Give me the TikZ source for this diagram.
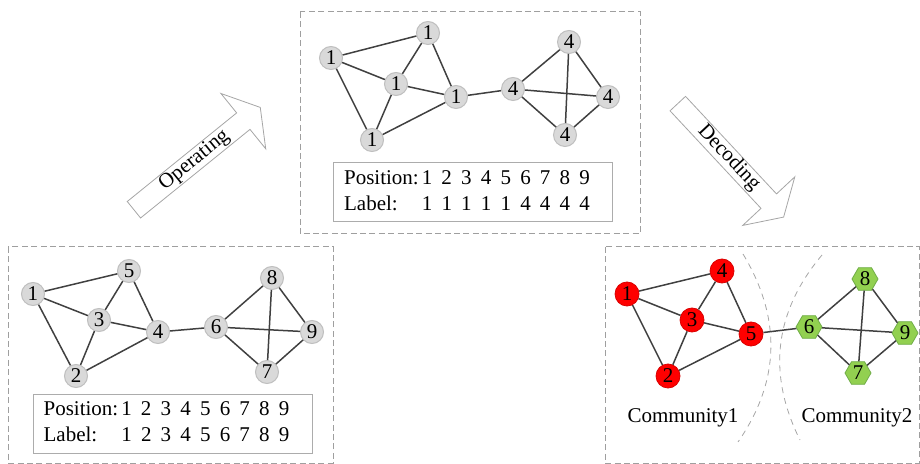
\documentclass[tikz,border=0pt]{standalone}
\usepackage{fontspec}
\setmainfont{Liberation Serif}
\usepackage{xcolor}
\usetikzlibrary{shapes.geometric,shapes.arrows}
\definecolor{leafgreen}{RGB}{146,208,80}
\definecolor{leafedge}{RGB}{112,173,71}

\begin{document}
\begin{tikzpicture}[
  x=0.5pt, y=-0.5pt,
  font=\fontsize{10.5}{12.6}\selectfont,
  vertex/.style={circle, draw=gray!50, fill=gray!30, line width=0.5pt, minimum size=11.5pt, inner sep=0pt, font=\fontsize{10.5}{11}\selectfont},
  redv/.style={circle, draw=red!85!black, fill=red, line width=0.4pt, minimum size=12pt, inner sep=0pt, font=\fontsize{10.5}{11}\selectfont},
  greenv/.style={regular polygon, regular polygon sides=6, draw=leafedge, fill=leafgreen, line width=0.4pt, minimum size=13pt, inner sep=0pt, font=\fontsize{10.5}{11}\selectfont},
  edge/.style={draw=black!75, line width=0.75pt},
  panel/.style={draw=gray!75, line width=0.5pt, dash pattern=on 3pt off 1.7pt},
  split/.style={draw=gray!70, line width=0.4pt, dash pattern=on 3pt off 2.5pt},
  tabbox/.style={draw=gray!65, line width=0.5pt, minimum width=139.5pt, minimum height=29.5pt, inner sep=0pt},
  flow/.style={single arrow, draw=gray!70, fill=white, line width=0.4pt, anchor=tail,
    single arrow head extend=12.5pt, single arrow tip angle=117,
    text height=7pt, text depth=2.4pt, inner ysep=0.4pt, inner xsep=2pt}
]
  \useasboundingbox (0,0) rectangle (920,464);
  \setlength{\tabcolsep}{2.3pt}

  % Panels
  \draw[panel] (8,247) rectangle (333,463);
  \draw[panel] (300,12) rectangle (640,234);
  \draw[panel] (605,247) rectangle (919,463);

  % Input network
  \node[vertex] (l1) at (33,294) {1};
  \node[vertex] (l2) at (76,376) {2};
  \node[vertex] (l3) at (99,320) {3};
  \node[vertex] (l4) at (158,332) {4};
  \node[vertex] (l5) at (129,271) {5};
  \node[vertex] (l6) at (216,327) {6};
  \node[vertex] (l7) at (267,372) {7};
  \node[vertex] (l8) at (272,278) {8};
  \node[vertex] (l9) at (312,332) {9};

  \node[tabbox] (ltab) at (172.5,423.5) {\begin{tabular}{@{}l@{\hspace{1.5pt}}*{9}{c}@{\hspace{6pt}}}
    Position: & 1 & 2 & 3 & 4 & 5 & 6 & 7 & 8 & 9\\
    Label: & 1 & 2 & 3 & 4 & 5 & 6 & 7 & 8 & 9
  \end{tabular}};

  % Label propagation result
  \node[vertex] (t1) at (331,58) {1};
  \node[vertex] (t2) at (372,140) {1};
  \node[vertex] (t3) at (396,84) {1};
  \node[vertex] (t4) at (456,97) {1};
  \node[vertex] (t5) at (428,33) {1};
  \node[vertex] (t6) at (513,89) {4};
  \node[vertex] (t7) at (565,135) {4};
  \node[vertex] (t8) at (569,42) {4};
  \node[vertex] (t9) at (608,97) {4};

  \node[tabbox] (ttab) at (473,192.5) {\begin{tabular}{@{}l@{\hspace{1.5pt}}*{9}{c}@{\hspace{6pt}}}
    Position: & 1 & 2 & 3 & 4 & 5 & 6 & 7 & 8 & 9\\
    Label: & 1 & 1 & 1 & 1 & 1 & 4 & 4 & 4 & 4
  \end{tabular}};

  % Communities
  \node[redv] (r1) at (627,294) {1};
  \node[redv] (r2) at (668,376) {2};
  \node[redv] (r3) at (692,320) {3};
  \node[redv] (r4) at (722,271) {4};
  \node[redv] (r5) at (751,334) {5};
  \node[greenv] (r6) at (809,327) {6};
  \node[greenv] (r7) at (858,373) {7};
  \node[greenv] (r8) at (865,279) {8};
  \node[greenv] (r9) at (905,333) {9};

  \node (c1) at (683,418) {Community1};
  \node (c2) at (857,418) {Community2};

  \draw[split] (743,254) .. controls (781,317) and (781,380) .. (738,442);
  \draw[split] (822,255) .. controls (770,317) and (770,380) .. (800,440);

  % Steps
  \node[flow, rotate=39, minimum height=81.3pt] (op) at (133.6,210) {Operating};
  \node[flow, rotate=-47, minimum height=77.6pt] (dec) at (677.5,103.3) {Decoding};

  % Edges
  \draw[edge] (l1) -- (l5);
  \draw[edge] (l1) -- (l3);
  \draw[edge] (l1) -- (l2);
  \draw[edge] (l3) -- (l5);
  \draw[edge] (l3) -- (l4);
  \draw[edge] (l3) -- (l2);
  \draw[edge] (l5) -- (l4);
  \draw[edge] (l2) -- (l4);
  \draw[edge] (l4) -- (l6);
  \draw[edge] (l6) -- (l8);
  \draw[edge] (l6) -- (l9);
  \draw[edge] (l6) -- (l7);
  \draw[edge] (l8) -- (l7);
  \draw[edge] (l8) -- (l9);
  \draw[edge] (l9) -- (l7);

  \draw[edge] (t1) -- (t5);
  \draw[edge] (t1) -- (t3);
  \draw[edge] (t1) -- (t2);
  \draw[edge] (t3) -- (t5);
  \draw[edge] (t3) -- (t4);
  \draw[edge] (t3) -- (t2);
  \draw[edge] (t5) -- (t4);
  \draw[edge] (t2) -- (t4);
  \draw[edge] (t4) -- (t6);
  \draw[edge] (t6) -- (t8);
  \draw[edge] (t6) -- (t9);
  \draw[edge] (t6) -- (t7);
  \draw[edge] (t8) -- (t7);
  \draw[edge] (t8) -- (t9);
  \draw[edge] (t9) -- (t7);

  \draw[edge] (r1) -- (r4);
  \draw[edge] (r1) -- (r3);
  \draw[edge] (r1) -- (r2);
  \draw[edge] (r3) -- (r4);
  \draw[edge] (r3) -- (r5);
  \draw[edge] (r3) -- (r2);
  \draw[edge] (r4) -- (r5);
  \draw[edge] (r2) -- (r5);
  \draw[edge] (r5) -- (r6);
  \draw[edge] (r6) -- (r8);
  \draw[edge] (r6) -- (r9);
  \draw[edge] (r6) -- (r7);
  \draw[edge] (r8) -- (r7);
  \draw[edge] (r8) -- (r9);
  \draw[edge] (r9) -- (r7);
\end{tikzpicture}
\end{document}
